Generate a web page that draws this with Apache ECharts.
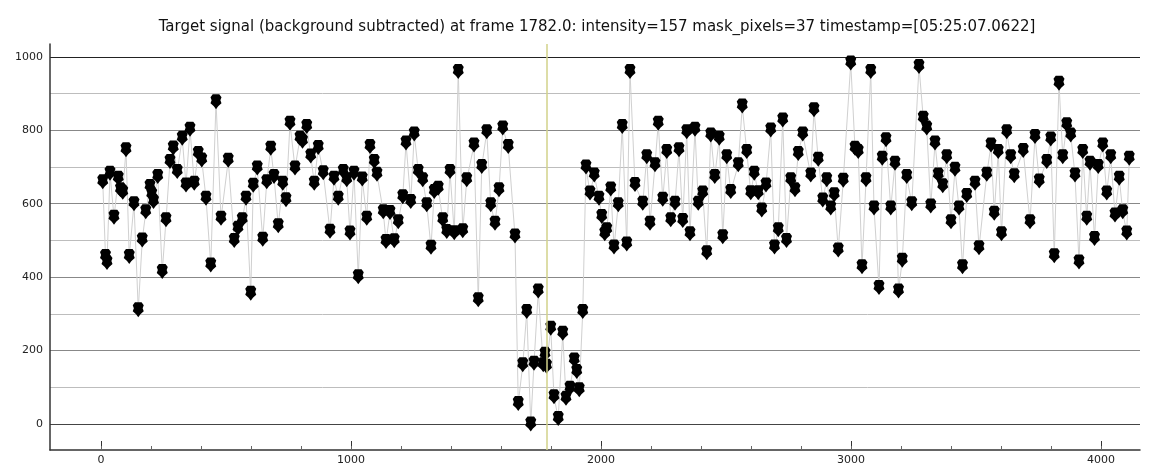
<!DOCTYPE html>
<html>
<head>
<meta charset="utf-8">
<script src="https://cdn.jsdelivr.net/npm/echarts@6/dist/echarts.min.js"></script>
<style>
  html, body { margin: 0; padding: 0; background: #fff; }
  #chart { width: 1152px; height: 475px; }
</style>
</head>
<body>
<div id="chart"></div>
<script>
// values
const frames = [
  7, 18, 24, 36, 52, 69, 78, 87, 100, 113, 132, 149, 165, 179, 196, 203, 210, 227, 245, 260,
  276, 289, 305, 325, 340, 356, 373, 389, 403, 420, 439, 460, 480, 509, 533, 548, 565, 580, 599, 609,
  625, 647, 663, 679, 692, 709, 727, 740, 756, 776, 796, 806, 823, 839, 853, 869, 889, 916, 932, 949,
  969, 983, 996, 1012, 1029, 1045, 1063, 1076, 1093, 1104, 1129, 1140, 1156, 1173, 1189, 1207, 1220, 1239, 1253, 1269,
  1287, 1303, 1320, 1333, 1349, 1367, 1383, 1396, 1413, 1429, 1447, 1463, 1492, 1509, 1523, 1543, 1559, 1576, 1592, 1607,
  1629, 1656, 1669, 1687, 1703, 1719, 1732, 1749, 1769, 1776, 1782, 1799, 1812, 1829, 1847, 1860, 1876, 1893, 1903, 1913,
  1927, 1940, 1956, 1973, 1992, 2003, 2015, 2023, 2039, 2052, 2069, 2085, 2103, 2116, 2136, 2167, 2183, 2196, 2216, 2229,
  2247, 2263, 2279, 2296, 2312, 2327, 2343, 2356, 2376, 2389, 2407, 2423, 2439, 2455, 2473, 2487, 2503, 2519, 2549, 2565,
  2583, 2599, 2613, 2629, 2643, 2660, 2679, 2694, 2709, 2727, 2742, 2759, 2776, 2789, 2807, 2839, 2852, 2869, 2887, 2903,
  2919, 2933, 2949, 2969, 2999, 3016, 3029, 3044, 3060, 3079, 3092, 3112, 3125, 3140, 3159, 3176, 3190, 3205, 3223, 3243,
  3272, 3289, 3303, 3319, 3336, 3349, 3367, 3383, 3400, 3416, 3432, 3446, 3463, 3496, 3512, 3543, 3560, 3573, 3589, 3602,
  3623, 3639, 3653, 3689, 3716, 3736, 3753, 3783, 3799, 3813, 3832, 3847, 3863, 3879, 3896, 3912, 3927, 3943, 3956, 3974,
  3989, 4007, 4023, 4039, 4056, 4073, 4087, 4103, 4113
];
const intensity = [
  660, 456, 440, 683, 563, 669, 638, 631, 747, 456, 600, 311, 501, 578, 647, 625, 606, 674, 415, 556,
  715, 752, 688, 778, 651, 803, 656, 737, 719, 615, 433, 878, 560, 718, 500, 533, 556, 615, 356, 650,
  697, 503, 660, 751, 674, 540, 656, 611, 819, 697, 778, 770, 810, 730, 656, 753, 684, 525, 669, 615,
  688, 665, 520, 683, 401, 667, 560, 756, 715, 680, 578, 497, 576, 499, 551, 619, 765, 606, 790, 688,
  665, 597, 481, 633, 642, 556, 524, 688, 521, 960, 526, 665, 760, 338, 701, 796, 597, 547, 638, 806,
  756, 512, 56, 161, 306, 0, 165, 362, 161, 190, 157, 261, 74, 15, 247, 70, 97, 174, 143, 93,
  306, 700, 629, 678, 615, 565, 518, 529, 640, 482, 597, 810, 490, 960, 652, 601, 728, 547, 706, 819,
  612, 742, 556, 601, 747, 554, 796, 518, 803, 601, 629, 466, 787, 674, 778, 510, 728, 633, 706, 866,
  742, 630, 683, 630, 583, 651, 801, 482, 529, 828, 500, 665, 638, 737, 790, 678, 856, 721, 610, 665,
  588, 624, 474, 664, 983, 751, 742, 428, 665, 960, 588, 372, 724, 774, 588, 710, 362, 446, 674, 600,
  974, 833, 806, 594, 765, 678, 649, 728, 551, 694, 588, 428, 622, 656, 480, 680, 760, 574, 742, 518,
  796, 728, 676, 745, 551, 783, 662, 715, 776, 458, 928, 728, 815, 787, 678, 441, 742, 560, 710, 505,
  701, 760, 629, 728, 569, 669, 578, 520, 724
];
const xMajorTicks = [0, 1000, 2000, 3000, 4000];
const xMinorTicks = [0, 200, 400, 600, 800, 1000, 1200, 1400, 1600, 1800, 2000, 2200, 2400, 2600, 2800, 3000, 3200, 3400, 3600, 3800, 4000];
const yMajorTicks = [0, 200, 400, 600, 800, 1000];
const yMinorTicks = [100, 300, 500, 700, 900];
const cursorFrame = 1782;
const titleText = 'Target signal (background subtracted) at frame 1782.0: intensity=157 mask_pixels=37 timestamp=[05:25:07.0622]';

const chart = echarts.init(document.getElementById('chart'));
const points = frames.map((f, i) => [f, intensity[i]]);
const xMin = -204, xMax = 4156, yMin = -71, yMax = 1035;
const labelFont = { fontFamily: 'DejaVu Sans', fontSize: 11, color: '#222' };
const plain = v => String(v);

const option = {
  animation: false,
  backgroundColor: '#fff',
  title: {
    text: titleText,
    left: 592,
    top: 15,
    textAlign: 'center',
    textStyle: { fontFamily: 'DejaVu Sans', fontSize: 15, fontWeight: 'normal', color: '#111' }
  },
  grid: { left: 50, top: 44, right: 12, bottom: 25, containLabel: false },
  xAxis: [
    {
      type: 'value', position: 'bottom', min: xMin, max: xMax,
      axisLine: { onZero: false, lineStyle: { color: '#333', width: 1.5 } },
      axisTick: { inside: true, length: 9, customValues: xMajorTicks, lineStyle: { color: '#333' } },
      axisLabel: Object.assign({ customValues: xMajorTicks, margin: 5, formatter: plain }, labelFont),
      splitLine: { show: false }
    },
    {
      type: 'value', position: 'bottom', min: xMin, max: xMax,
      axisLine: { show: false, onZero: false },
      axisTick: { inside: true, length: 4, customValues: xMinorTicks, lineStyle: { color: '#666' } },
      axisLabel: { show: false },
      splitLine: { show: false }
    }
  ],
  yAxis: [
    {
      type: 'value', position: 'left', min: yMin, max: yMax,
      axisLine: { show: true, onZero: false, lineStyle: { color: '#333', width: 1.5 } },
      axisTick: { show: false, customValues: yMajorTicks },
      axisLabel: Object.assign({ customValues: yMajorTicks, margin: 7, formatter: plain }, labelFont),
      splitLine: { show: true, lineStyle: { color: ['#444', '#888', '#888', '#888', '#888', '#222'], width: 1.2 } }
    },
    {
      type: 'value', position: 'left', min: yMin, max: yMax,
      axisLine: { show: false, onZero: false },
      axisTick: { show: false, customValues: yMinorTicks },
      axisLabel: { show: false, customValues: yMinorTicks },
      splitLine: { show: true, lineStyle: { color: '#bdbdbd', width: 1 } }
    }
  ],
  series: [
    {
      // thin grey trace between consecutive frames
      type: 'line',
      xAxisIndex: 0,
      yAxisIndex: 0,
      data: points,
      showSymbol: false,
      z: 2,
      lineStyle: { color: '#d0d0d0', width: 1 },
      markLine: {
        silent: true,
        symbol: 'none',
        label: { show: false },
        lineStyle: { color: '#d2d28a', width: 1.5, type: 'solid' },
        data: [{ xAxis: cursorFrame }]
      }
    },
    {
      type: 'scatter',
      xAxisIndex: 0,
      yAxisIndex: 0,
      data: points,
      z: 3,
      symbol: 'path://M2,0 L8,0 L10,3 L9,6 L10,9 L7,12 L5,15 L3,12 L0,9 L1,6 L0,3 Z',
      symbolSize: [11, 15],
      itemStyle: { color: '#000', opacity: 1 }
    }
  ]
};
chart.setOption(option);
</script>
</body>
</html>
